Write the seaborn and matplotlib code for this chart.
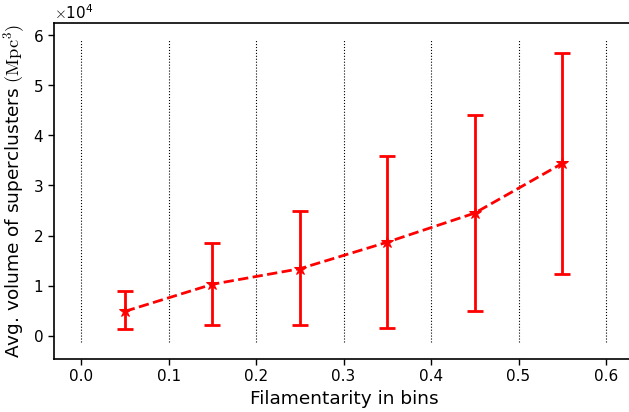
import matplotlib
matplotlib.use("Agg")
import matplotlib.pyplot as plt
import seaborn as sns
import numpy as np
import pandas as pd

# Data (volumes in units of 1e4 Mpc^3)
bin_centers = [0.05, 0.15, 0.25, 0.35, 0.45, 0.55]
avg_volume = [0.49, 1.03, 1.34, 1.87, 2.45, 3.44]
err_low = [0.13, 0.21, 0.21, 0.16, 0.49, 1.24]
err_high = [0.89, 1.86, 2.50, 3.58, 4.41, 5.65]
bin_edges = [0.0, 0.1, 0.2, 0.3, 0.4, 0.5, 0.6]

scale = 1e4
df = pd.DataFrame({"x": bin_centers, "y": np.array(avg_volume) * scale})

sns.set_style("ticks")
plt.rcParams['font.family'] = ['DejaVu Sans']
plt.rcParams['mathtext.fontset'] = 'cm'
plt.rcParams['text.color'] = 'black'
plt.rcParams['axes.labelcolor'] = 'black'
plt.rcParams['xtick.color'] = 'black'
plt.rcParams['ytick.color'] = 'black'

fig = plt.figure(figsize=(6.29, 4.12), dpi=100)
ax = fig.add_axes([54/629, 1 - 359/412, (634 - 54)/629, (359 - 23)/412])

ax.vlines(bin_edges, -0.12 * scale, 5.92 * scale, colors='k', linestyles=':', linewidth=0.8, zorder=1)

yerr = np.array([np.array(avg_volume) - np.array(err_low),
                 np.array(err_high) - np.array(avg_volume)]) * scale
ax.errorbar(bin_centers, df["y"], yerr=yerr, fmt='none', ecolor='red',
            elinewidth=2, capsize=6, capthick=2, zorder=2)
sns.lineplot(data=df, x="x", y="y", ax=ax, color='red', linestyle='--',
             linewidth=2, marker='*', markersize=9, markeredgecolor='red', zorder=3)

ax.set_xlim(-0.031, 0.632)
ax.set_ylim(-0.46 * scale, 6.24 * scale)
ax.set_xticks(bin_edges)
ax.set_xticklabels([f"{v:.1f}" for v in bin_edges])
ax.ticklabel_format(axis='y', style='sci', scilimits=(4, 4), useMathText=True)
ax.yaxis.get_offset_text().set_fontsize(11)
ax.tick_params(labelsize=11, direction='out', length=4, width=1, color='k')
for s in ax.spines.values():
    s.set_color('k')
    s.set_linewidth(1.2)

ax.set_xlabel("Filamentarity in bins", fontsize=13.3)
ax.set_ylabel(r"Avg. volume of superclusters $(\mathrm{Mpc}^3)$", fontsize=13.3)

fig.savefig("out.png", dpi=100)
